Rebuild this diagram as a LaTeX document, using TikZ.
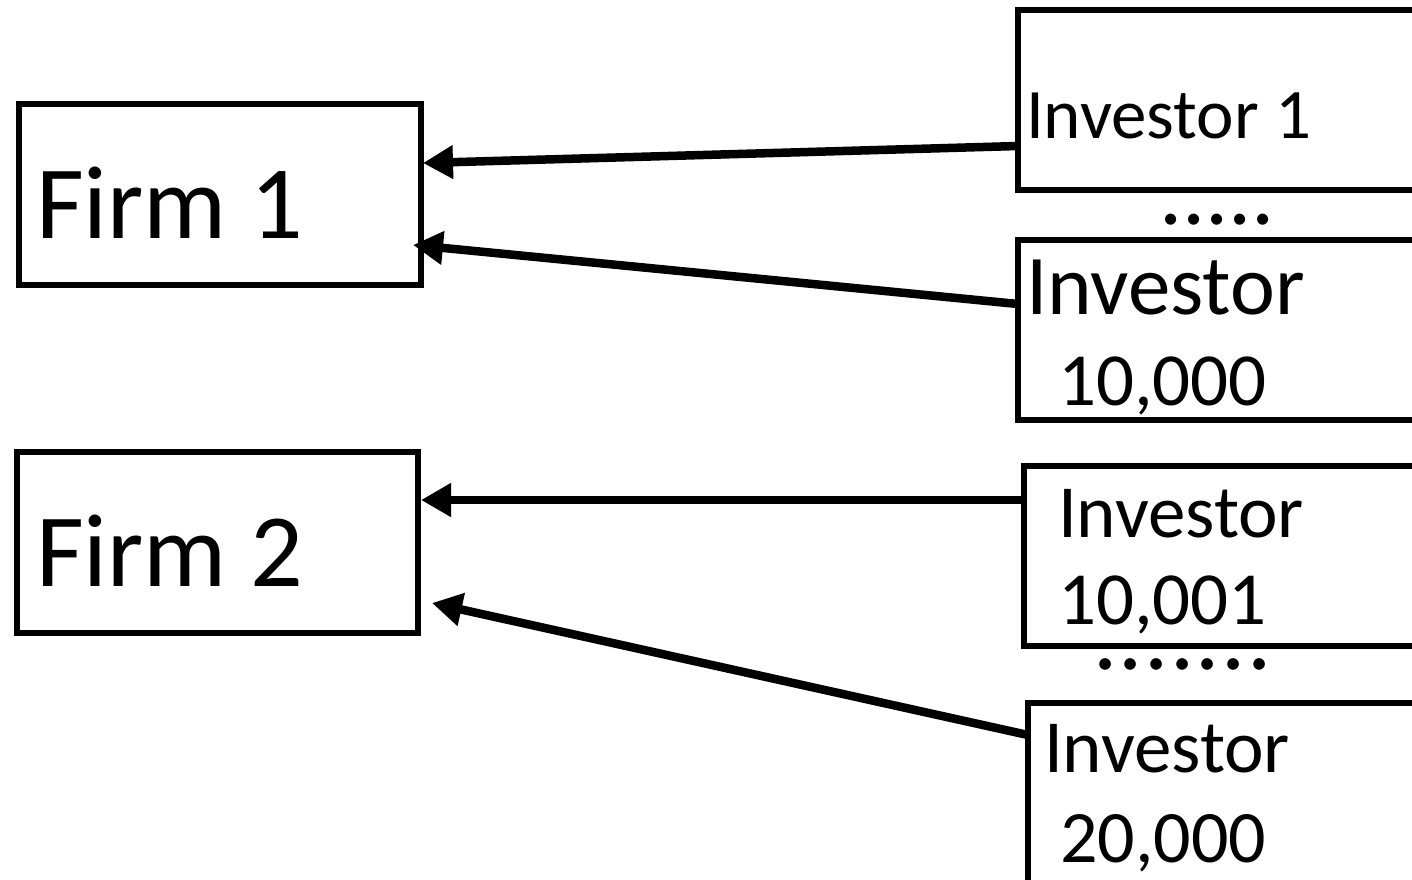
\documentclass[tikz,border=0pt]{standalone}
\usepackage{fontspec}
\setmainfont{Carlito}
\usetikzlibrary{arrows.meta}
\begin{document}
\begin{tikzpicture}[x=1pt,y=-1pt,
  boxst/.style={draw=black,line width=6pt},
  arr/.style={line width=8.5pt,-{Triangle[length=30pt,width=32pt]}},
  lbl/.style={anchor=base west,inner sep=0pt,outer sep=0pt},
  fsz/.style={font=\fontsize{#1}{#1}\selectfont}]
\useasboundingbox (0,0) rectangle (1412,879);
\clip (0,0) rectangle (1412,879);
\fill[white] (0,0) rectangle (1412,879);
% firm boxes
\draw[boxst] (19,104) rectangle (421,285);
\draw[boxst] (17,452) rectangle (418,633);
\coordinate (f1a) at (423,163);
\coordinate (f1b) at (413,245);
\coordinate (f2a) at (421,500);
\coordinate (f2b) at (432,603);
% investor boxes
\draw[boxst] (1018,10) rectangle (1440,190);
\draw[boxst] (1018,240) rectangle (1440,420);
\draw[boxst] (1024,466) rectangle (1440,646);
\draw[boxst] (1028,703) rectangle (1440,900);
\coordinate (i1) at (1018,146);
\coordinate (i2) at (1018,304);
\coordinate (i3) at (1024,500);
\coordinate (i4) at (1028,735);
% texts
\node[lbl,fsz=104] (t1) at (36,238) {Firm 1};
\node[lbl,fsz=104] (t2) at (36,586) {Firm 2};
\node[lbl,fsz=71] (t3) at (1026,138) {Investor 1};
\node[lbl,fsz=85] (t4) at (1026,314) {Investor};
\node[lbl,fsz=75] (t5) at (1058,405) {10,000};
\node[lbl,fsz=75] (t6) at (1058,537) {Investor};
\node[lbl,fsz=75] (t7) at (1058,624) {10,001};
\node[lbl,fsz=75] (t8) at (1044,772) {Investor};
\node[lbl,fsz=74] (t9) at (1060,862) {20,000};
\node[lbl,fsz=92] (d1) at (1159,224) {.....};
\node[lbl,fsz=96] (d2) at (1093,669) {.\kern1.5pt.\kern1.5pt.\kern1.5pt.\kern1.5pt.\kern1.5pt.\kern1.5pt.};
% arrows
\draw[arr] (i1) -- (f1a);
\draw[arr] (i2) -- (f1b);
\draw[arr] (i3) -- (f2a);
\draw[arr] (i4) -- (f2b);
\end{tikzpicture}
\end{document}
